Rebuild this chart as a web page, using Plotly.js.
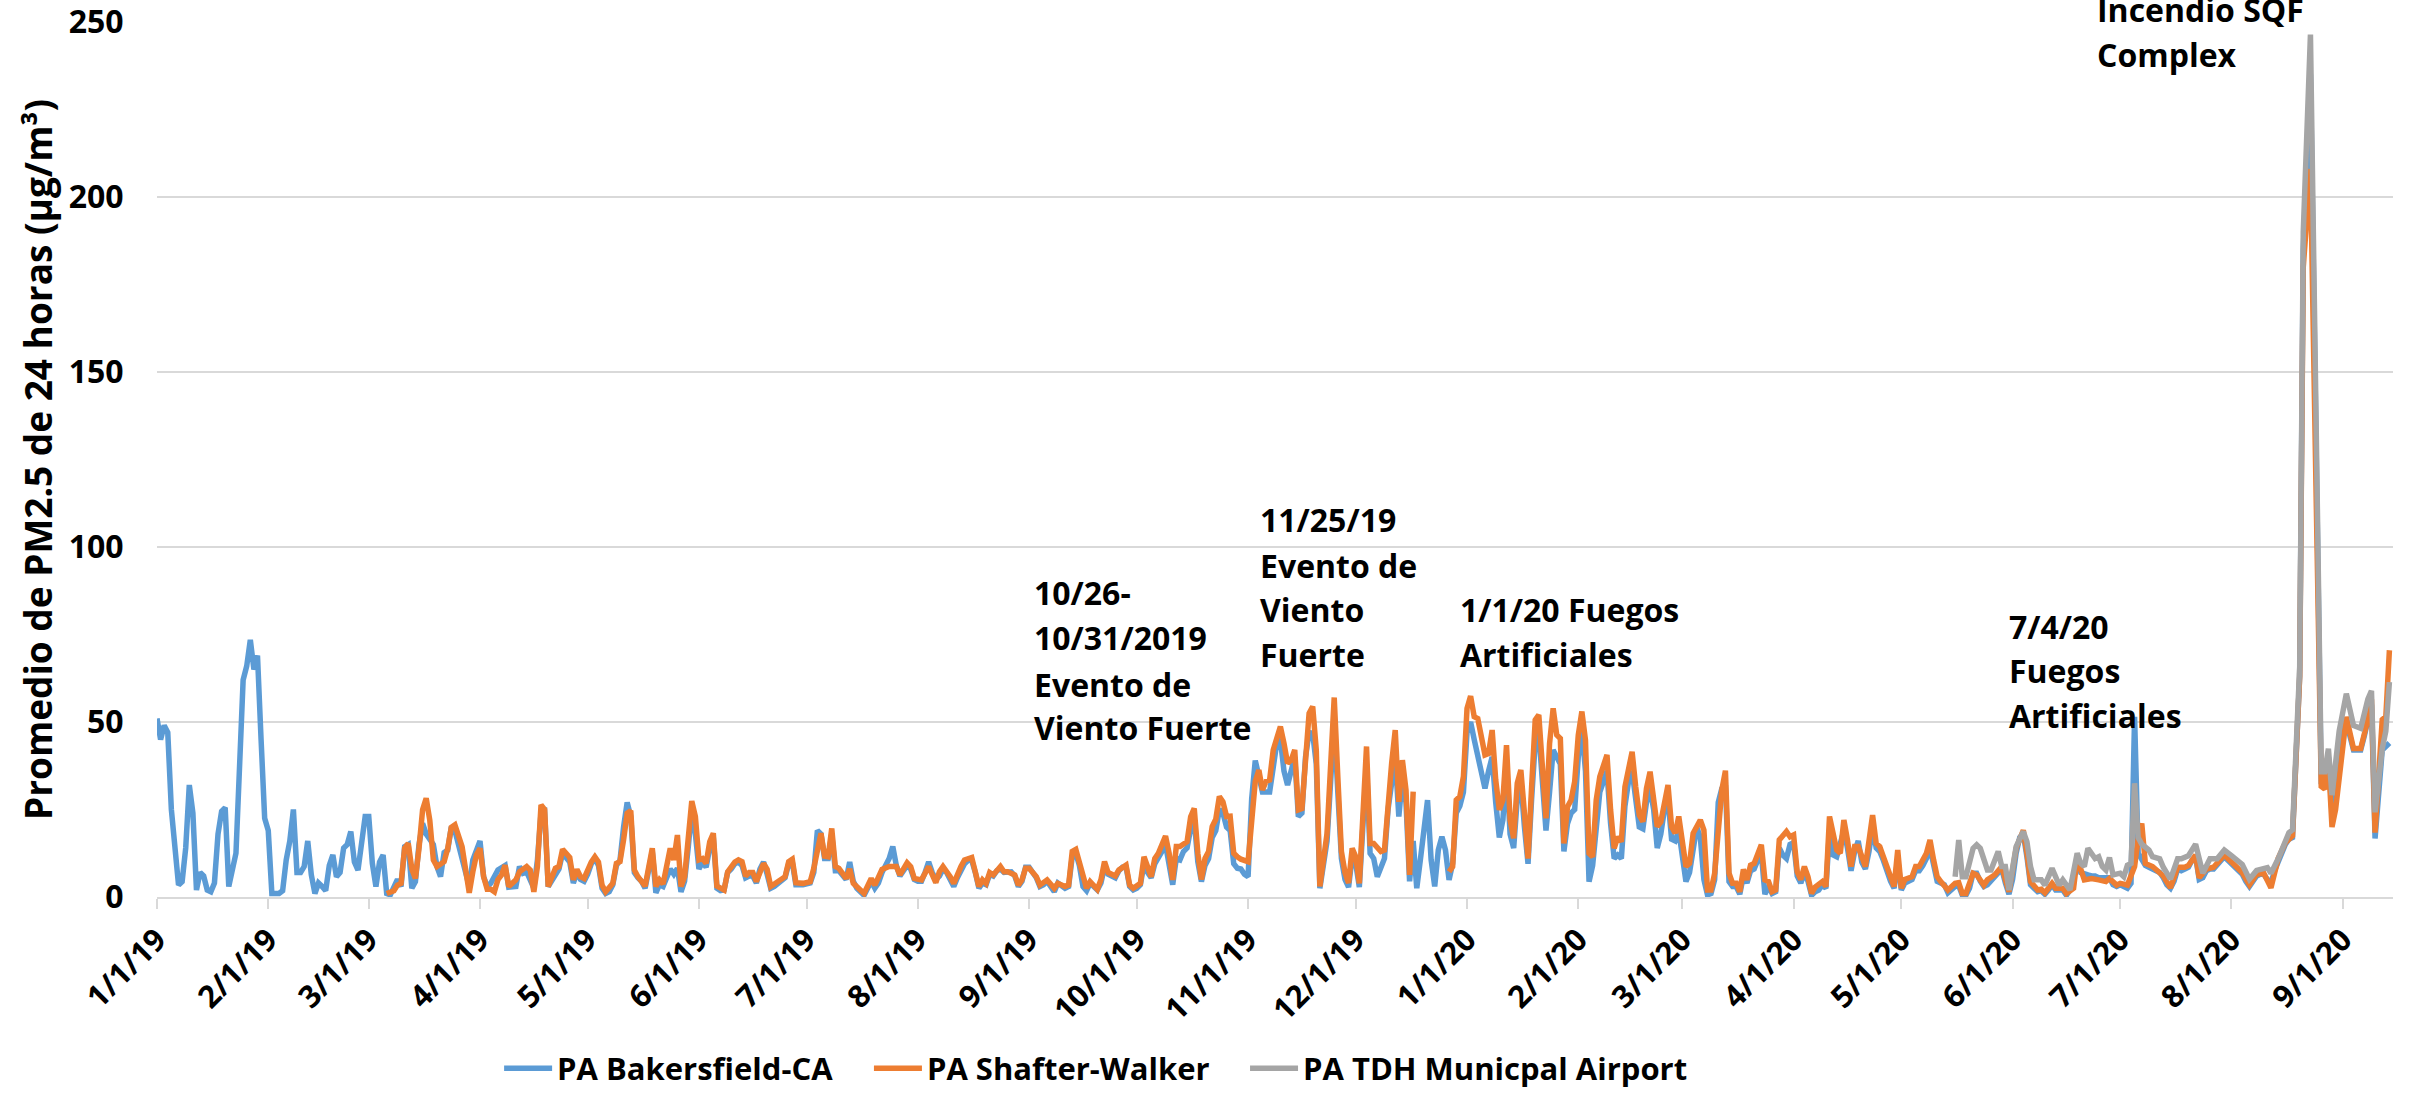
<!DOCTYPE html>
<html>
<head>
<meta charset="utf-8">
<script src="https://cdn.plot.ly/plotly-3.0.1.min.js"></script>
<style>html,body{margin:0;padding:0;background:#fff}#chart{width:2413px;height:1094px}</style>
</head>
<body>
<div id="chart"></div>
<script>
// Days counted from 1/1/19, value = 24-h PM2.5 (µg/m³)
const bakersfield = [[0,51],[1,45],[2,49],[3,47],[4,25],[6,3.4],[7,4.4],[8,14],[9,32],[10,24],[11,2],[12,7],[13,6],[14,2],[15,1.5],[16,4],[17,18],[18,24.5],[19,25.5],[20,3],[22,12.5],[23,34],[24,62],[25,66],[26,73.5],[27,65],[28,69],[29,45],[30,22.5],[31,19],[32,1],[34,1],[35,1.8],[36,10.6],[37,16],[38,25],[39,7],[40,7],[41,8.7],[42,16],[43,6.3],[44,1],[45,4],[46,3],[47,1.8],[48,9],[49,12],[50,5.8],[51,7],[52,14],[53,15],[54,18.7],[55,10],[56,7.7],[57,16.8],[58,23],[59,23],[60,9.6],[61,3],[62,10],[63,12],[64,1],[65,0.6],[66,3],[67,5],[68,3],[69,14.4],[70,15],[71,2.5],[72,4.4],[73,15],[74,21],[75,18],[77,15],[78,8.7],[79,5.8],[80,12.7],[81,13.4],[82,20],[83,19],[85,11],[87,3],[88,10.6],[90,16],[91,5.8],[92,3],[93,3.9],[95,7.7],[97,9],[98,2.8],[100,3],[101,8.7],[102,6.8],[103,7.2],[105,2.5],[106,10.6],[107,24],[108,24.5],[109,3],[111,6.3],
[112,8],[113,12.5],[114,11],[115,10],[116,4],[117,7],[118,5],[119,4.5],[120,6.5],[121,9.5],[122,11],[123,9],[124,2.5],[125,1],[126,1.5],[127,3.5],[128,9],[129,10.5],[130,20],[131,27],[132,23],[133,7],[134,5.5],[135,4.5],[136,2.5],[137,7],[138,13],[139,1.2],[140,3.5],[141,3],[142,5.5],[143,8],[144,6.5],[145,8.2],[146,1.5],[147,4.5],[148,14],[149,25],[150,18],[151,8],[152,10],[153,8.5],[154,14],[155,17],[156,2.5],[157,1.8],[158,2],[159,7],[160,8],[161,9.5],[162,10],[163,9],[164,5.5],[165,6],[166,6],[167,4],[168,8],[169,10],[170,6.5],[171,2.5],[172,3],[173,4],[174,4.5],[175,5.5],[176,9.5],[177,10],[178,3.5],[180,3.5],[182,4],[183,7],[184,19],[185,18],[186,11],[187,11],[188,18],[189,7.5],[190,7.5],[191,6.5],[192,5],[193,10],[194,4.5],[195,2.5],[196,1.5],[197,0.5],[198,2.5],[199,4.5],[200,2.5],[201,4],[202,7],[203,9],[204,11],[205,14.4],[206,9],[207,6],[208,7.5],[209,9],[210,8],[211,5],[212,4.5],[213,4.5],[214,7],[215,10],[216,7],[217,5],[218,6],[219,8],[220,7],[221,5],[222,3],
[223,5.5],[224,8],[225,9.5],[226,10.5],[227,10.5],[228,7],[229,2.5],[230,4],[231,3.5],[232,6.5],[233,6],[234,7.5],[235,8],[236,7],[237,7],[238,7.2],[239,6],[240,3],[241,4.5],[242,8.5],[243,8.5],[244,7],[245,5.5],[246,3],[247,3.5],[248,4.5],[249,3],[250,1.5],[251,4],[252,3],[253,2.5],[254,3],[255,11.5],[256,12.5],[257,9],[258,3],[259,1.8],[260,4],[261,3],[262,2],[263,4],[264,8.5],[265,6.5],[266,6],[267,5.5],[268,7.5],[269,8.5],[270,8.5],[271,3],[272,2],[273,2.5],[274,3.5],[275,9.5],[276,7],[277,5.5],[278,9.5],[279,11],[280,13],[281,15],[282,9],[283,3.5],[284,11],[285,10.6],[286,13],[287,14],[288,19.5],[289,22],[290,10],[291,4.4],[292,9],[293,11],[294,17],[295,19],[296,25],[297,24],[298,20],[299,19],[300,9.5],[301,8.2],[302,8],[303,6.5],[304,5.8],[305,28],[306,39],[307,34],[308,30],[309,30],[310,30],[311,37],[312,44],[313,45],[314,36],[315,32],[316,36],[317,40],[318,23],[319,24],[320,40],[321,47],[322,46.8],[323,38],[324,2.5],[325,10],[326,16],[327,33],[328,50],[329,30],[330,11],
[331,5],[332,2.8],[333,11.5],[334,9.5],[335,2.8],[336,22],[337,38],[338,12.5],[339,11],[340,5.8],[341,8],[342,11],[343,25],[344,33],[345,40],[346,23],[347,34],[348,27],[349,4.5],[350,16],[351,2.5],[352,10.6],[353,20],[354,27.7],[355,10.6],[356,3],[357,13.4],[358,17.2],[359,13.4],[360,4.9],[361,9.6],[362,24],[363,26],[364,30],[365,47],[366,50],[367,45],[368,40],[369,36],[370,31],[371,36],[372,40],[373,27],[374,17],[375,22],[376,38],[377,18],[378,14],[379,28],[380,33],[381,20],[382,9.5],[383,28],[384,44],[385,47],[386,31],[387,19],[388,30],[389,42],[390,40],[391,38],[392,13],[393,21],[394,24],[395,25],[396,40],[397,48],[398,36],[399,4.4],[400,9],[401,20],[402,30],[403,33],[404,36],[405,21],[406,11],[407,12],[408,11],[409,26],[410,33],[411,36],[412,27],[413,20],[414,19.5],[415,27],[416,31],[417,25],[418,14],[419,18],[420,25],[421,28],[422,16.5],[423,16],[424,19],[425,11],[426,4.4],[427,7],[428,15],[429,20],[430,17],[431,5],[432,0.6],[433,1],[434,5],[435,27],[436,31],[437,32],[438,4.4],[439,3],[440,3],[441,0.8],[442,6],[443,4],[444,7.5],[445,8],
[446,10.5],[447,12.5],[448,0.8],[449,3],[450,1],[451,1.5],[452,14],[453,12],[454,11],[455,15],[456,15.5],[457,6],[458,4],[459,7],[460,4.5],[461,0.5],[462,1.5],[463,2],[464,3.5],[465,2.5],[466,19],[467,12],[468,11.5],[469,15],[470,19],[471,14],[472,7.5],[473,13],[474,16],[475,10],[476,8],[477,13],[478,20],[479,14],[480,13],[481,10.5],[482,7],[483,4.5],[484,2.5],[485,11],[486,2],[487,4],[488,4.5],[489,5],[490,7.5],[491,7.5],[492,9],[493,11],[494,14],[495,9],[496,4.5],[497,4],[498,3.5],[499,1.2],[500,2],[501,3],[502,3.3],[503,0.5],[504,0.5],[505,2.5],[506,6.8],[507,6.8],[508,4.5],[509,3],[510,3.5],[511,4.5],[512,6],[513,7],[514,8],[515,4],[516,0.8],[517,5],[518,12.5],[519,17],[520,18],[521,11.5],[522,3.5],[523,2.5],[524,1.5],[525,1.8],[526,0.8],[527,2],[528,3.5],[529,2],[530,2],[531,2],[532,0.5],[533,2],[534,6],[535,9.5],[536,7],[537,6.5],[538,6.3],[539,6],[540,6],[541,5.5],[542,5.5],[543,5.8],[544,5.5],[545,3.5],[546,3],[547,3.5],[548,3],[549,2.5],[550,3.9],[551,51.5],[552,12.5],[553,11],[554,9],[555,8.5],[556,8],[557,7.5],[558,7],
[559,5.5],[560,3.5],[561,2.5],[562,4.5],[563,8],[564,7.5],[565,8],[566,8.5],[567,10.5],[568,11.5],[569,5],[570,5.5],[571,7.5],[572,8],[573,8],[574,9],[575,10.5],[576,11.5],[577,10.5],[578,9.5],[579,8.5],[580,7.5],[581,6.5],[582,4.5],[583,3],[584,4.5],[585,6],[586,6.5],[587,6.5],[588,5],[589,4],[590,7.5],[591,10.5],[592,12.5],[593,15],[594,16.5],[595,17],[597,63],[598,185],[600,235],[603,33],[604,33],[605,40],[606,24],[607,33],[608,43],[609,48],[610,50],[611,46],[612,42],[613,42],[614,42],[615,46],[616,50],[617,55],[618,16.7],[619,30],[620,42],[621,43],[622,44]];

const shafterWalker = [[64,1],[65,1.5],[66,1.8],[67,3.4],[68,3.9],[69,14],[70,15.3],[71,8],[72,5.3],[73,13.9],[74,24.9],[75,28.2],[76,22],[77,10.6],[78,8.7],[80,10.1],[81,13.9],[82,19.9],[83,20.6],[85,14.4],[87,1.2],[88,7.2],[89,12],[90,13.9],[91,5.8],[92,2.2],[93,2.2],[94,1.5],[95,5],[96,6.3],[97,9.1],[98,3],[100,4.9],[101,7.2],[103,8.7],[104,7.7],[105,1.5],[106,8.7],[107,26.3],[108,25],[109,3],[111,8.2],[112,8.7],[113,13.6],[115,11.3],[116,4.9],[117,7.9],[118,5.8],[119,5.3],[121,10],[122,11.5],[123,10],[124,3.4],[125,1.5],[127,3.9],[128,9.6],[129,10.1],[130,16.3],[131,23.9],[132,24.7],[133,7.7],[134,5.8],[136,3.1],[138,13.9],[139,3],[140,4.9],[141,3.7],[143,13.9],[144,10.6],[145,17.7],[146,3],[147,5.8],[149,27.4],[150,23],[151,10.6],[152,11],[153,9.6],[154,15.8],[155,18.2],[156,3.1],[158,2],[159,7.2],[161,10],[162,10.6],[163,10.1],[164,6],[165,7],[166,7],[167,4.4],[169,9.6],[170,7.9],[171,3],[173,4.4],[175,5.8],[176,10.1],[177,10.8],[178,4.1],[180,3.9],[182,4.4],[183,8.2],[185,18.2],[186,11.7],[187,11.5],[188,19.6],[189,8.7],[190,8.2],[192,5.3],[193,8],[194,3.9],[197,1],[199,5.3],[200,3.4],[202,7.9],[204,8.7],[206,8.7],[207,6.3],[209,9.8],[210,8.7],[211,5.3],[213,4.9],[215,8.7],[217,4.1],[218,7.2],[219,8.7],[221,5.8],[222,3.9],[224,8.7],[225,10.6],[227,11.3],[228,7.7],[229,3],[230,4.9],[231,3.9],[232,7],[233,6.3],[235,8.7],[236,7.2],[237,7.2],[239,6.3],[240,3.4],[241,4.9],[242,8.2],[243,8.2],[245,5.8],[246,3.4],[248,4.9],[249,3.4],[250,2.5],[251,3.9],[253,3],[254,3.4],[255,13],[256,13.6],[259,2.5],[260,4.4],[262,2.2],[263,4.9],[264,10.1],[265,7],[266,6.3],[267,6],[268,7.7],[270,9.1],[271,3.4],[272,2.5],[274,3.9],[275,11.5],[277,5.8],[278,11],[279,12.5],[281,17.4],[282,12.5],[283,4.9],[284,14.4],[285,14.4],[287,15.8],[288,22.9],[289,25.3],[290,12.5],[291,5],[292,11],[293,13],[294,20.1],[295,22.2],[296,28.7],[297,27.2],[298,23],[299,23.1],[300,12.5],[301,11.5],[302,10.8],[304,10.1],[306,33],[307,36.3],[308,30.6],[309,33],[310,33.4],[311,42],[313,48.7],[314,43.9],[315,38.2],[316,39.1],[317,42],[318,24.9],[319,25.3],[321,52.5],[322,54.4],[323,42],[324,3],[326,18.2],[327,37.2],[328,57],[329,34.4],[330,13],[331,7],[332,4],[333,13.9],[334,11.5],[335,3.9],[337,43],[338,15.3],[339,15.3],[341,13],[342,13.4],[344,38.2],[345,47.7],[346,27.2],[347,39.1],[348,30.6],[349,6.3],[350,30.1],[355,null],[360,7.2],[361,8.7],[362,27.7],[363,28.7],[364,34.4],[365,53.9],[366,57.4],[367,51.5],[368,51],[369,44.9],[370,40.6],[371,41],[372,47.7],[373,33.4],[374,24.9],[375,27.7],[376,43.4],[377,22],[378,16.8],[379,32.5],[380,36.3],[381,23.9],[382,11],[383,31.5],[384,50.6],[385,52],[386,35.3],[387,22.5],[388,43.9],[389,53.9],[390,46.3],[391,45.3],[392,15.3],[393,25.8],[394,27.7],[395,33],[396,46.3],[397,53],[398,44.9],[399,12.5],[400,11.5],[401,27.7],[402,34.4],[404,40.6],[405,24.9],[406,13.9],[407,17.2],[408,15.8],[409,31.5],[411,41.5],[412,31.5],[413,23.4],[414,21.5],[415,31],[416,35.8],[417,27.7],[418,20.1],[419,21.5],[421,32],[422,20.1],[423,18.2],[424,23],[425,14.4],[426,8.7],[427,9.6],[428,18.2],[430,22],[431,19.1],[432,2],[433,2],[434,6.8],[436,30.6],[437,36.1],[438,6.8],[439,3.9],[440,3.9],[441,1.5],[442,7.9],[443,4.9],[444,9.1],[445,9.6],[446,12.5],[447,14.9],[448,4.9],[449,4.4],[450,1.5],[451,2],[452,16.3],[454,18.7],[455,17.2],[456,17.7],[457,7.2],[458,5],[459,8.7],[460,5.8],[461,1],[462,2.8],[464,4.4],[465,3],[466,23],[468,13.4],[469,12.5],[470,22],[471,16.3],[472,8.7],[473,14.4],[474,14.4],[476,8.7],[477,15.3],[478,23.4],[479,15.3],[480,14.4],[481,11.5],[483,5.3],[484,3],[485,13.4],[486,2.5],[487,5],[489,5.8],[490,8.7],[491,8.7],[493,12.5],[494,16.3],[495,10.6],[496,5.8],[497,4.4],[499,2],[501,3.9],[502,4.1],[503,1],[504,1],[506,6.8],[507,6.3],[509,3.4],[510,4.9],[512,6.3],[514,8.7],[515,4.9],[516,1.5],[518,13.9],[520,19.1],[521,12.5],[522,4.4],[524,2],[525,2.2],[526,1.2],[528,3.9],[529,2.5],[531,2.5],[532,1],[534,2.5],[535,11],[536,7.2],[537,4.9],[539,5.3],[540,4.9],[541,4.9],[543,4.4],[544,5.3],[546,3.4],[547,3.9],[548,3.7],[549,3.4],[551,8.7],[552,16.8],[553,21],[554,9.6],[556,8.7],[558,7.2],[559,6],[561,2.6],[563,8.5],[565,8.5],[566,9],[568,12],[569,5.5],[571,8],[573,8.5],[576,12],[578,10],[581,7],[583,3.5],[585,6.5],[587,6.8],[588,5],[589,2.6],[591,11],[593,15.5],[595,17.5],[597,63],[598,180],[600,208],[603,31.6],[604,30.8],[605,39],[606,20],[607,25],[610,51.5],[612,42.4],[614,42.4],[616,50.7],[617,56.5],[618,18.4],[620,50.7],[621,51.5],[622,70.5]];

const tdhAirport = [[501,5.8],[502,16.3],[503,5.8],[504,5.8],[506,13.9],[507,14.9],[508,13.9],[510,7.7],[511,7.7],[513,13],[514,8.7],[515,8.7],[516,2],[518,14.4],[520,18.7],[521,15.8],[522,8.7],[523,4.9],[525,4.9],[526,3.4],[528,8.2],[530,3.4],[531,4.9],[533,2],[535,12.5],[536,9.6],[537,8.7],[538,13.9],[540,11],[541,11.5],[542,8.7],[543,7.7],[544,11.3],[545,6.3],[547,6.8],[548,5.8],[549,9.1],[550,9.6],[551,32.5],[552,17],[553,15.1],[555,13.4],[556,11.5],[558,10.9],[559,8.5],[561,5.1],[563,10.9],[564,10.9],[566,11.8],[568,15.1],[570,6.8],[572,10.9],[574,10.9],[576,13.4],[578,11.8],[581,9.3],[583,5.1],[585,7.6],[588,8.4],[589,6.8],[591,10.9],[594,18.4],[595,19.2],[597,65.6],[598,190],[600,246.4],[603,35.8],[604,35.8],[605,42.4],[606,29.1],[608,47.4],[610,58.1],[612,49],[614,48.2],[616,56.5],[617,58.9],[618,24.2],[619,32.5],[620,42.4],[621,47.4],[622,61.4]];

const seriesNames = ['PA Bakersfield-CA', 'PA Shafter-Walker', 'PA TDH Municpal Airport'];
const tickDates = ['2019-01-01','2019-02-01','2019-03-01','2019-04-01','2019-05-01','2019-06-01','2019-07-01','2019-08-01','2019-09-01','2019-10-01','2019-11-01','2019-12-01','2020-01-01','2020-02-01','2020-03-01','2020-04-01','2020-05-01','2020-06-01','2020-07-01','2020-08-01','2020-09-01'];
const tickLabels = ['1/1/19','2/1/19','3/1/19','4/1/19','5/1/19','6/1/19','7/1/19','8/1/19','9/1/19','10/1/19','11/1/19','12/1/19','1/1/20','2/1/20','3/1/20','4/1/20','5/1/20','6/1/20','7/1/20','8/1/20','9/1/20'];
const yTicks = [0, 50, 100, 150, 200, 250];
const noteLines = ['10/26-', '10/31/2019', 'Evento de', 'Viento Fuerte',
                   '11/25/19', 'Evento de', 'Viento', 'Fuerte',
                   '1/1/20 Fuegos', 'Artificiales',
                   '7/4/20', 'Fuegos', 'Artificiales',
                   'Incendio SQF', 'Complex'];
const yTitle = 'Promedio de PM2.5 de 24 horas (µg/m³)';

function toDate(d) {
  const t = new Date(Date.UTC(2019, 0, 1 + d));
  return t.toISOString().slice(0, 10);
}
function mk(pairs, name, color, legendId) {
  return {
    type: 'scatter', mode: 'lines', name: name, legend: legendId,
    x: pairs.map(p => toDate(p[0])), y: pairs.map(p => p[1]),
    connectgaps: false,
    line: {color: color, width: 5.5},
    hoverinfo: 'x+y+name'
  };
}
const FONT = '"Open Sans", "Noto Sans", sans-serif';
const traces = [
  mk(bakersfield, seriesNames[0], '#5B9BD5', 'legend'),
  mk(shafterWalker, seriesNames[1], '#ED7D31', 'legend2'),
  mk(tdhAirport, seriesNames[2], '#A5A5A5', 'legend3')
];

// annotation placement (paper coords): [x, y] per line
const notePos = [[0.3913,0.348],[0.3913,0.2971],[0.3913,0.2434],[0.3913,0.1937],
                 [0.4924,0.432],[0.4924,0.3794],[0.4924,0.3286],[0.4924,0.2771],
                 [0.5818,0.3286],[0.5818,0.2771],
                 [0.8273,0.3097],[0.8273,0.2583],[0.8273,0.2074],
                 [0.8667,1.014],[0.8667,0.9623]];
const annotations = noteLines.map((t, i) => ({
  text: t, xref: 'paper', yref: 'paper', x: notePos[i][0], y: notePos[i][1],
  xanchor: 'left', yanchor: 'middle', showarrow: false, align: 'left',
  font: {family: FONT, size: 32, weight: 'bold', color: '#000'}
}));

function leg(x) {
  return {x: x, y: -0.196, xref: 'paper', yref: 'paper', xanchor: 'left', yanchor: 'middle',
          orientation: 'h', bgcolor: 'rgba(0,0,0,0)', borderwidth: 0, itemwidth: 48,
          font: {family: FONT, size: 31, weight: 'bold', color: '#000'}};
}

const layout = {
  width: 2413, height: 1094,
  margin: {l: 157, r: 20, t: 22, b: 197, autoexpand: false},
  paper_bgcolor: '#fff', plot_bgcolor: '#fff',
  showlegend: true,
  legend: leg(0.153), legend2: leg(0.3184), legend3: leg(0.4866),
  xaxis: {
    type: 'date', range: ['2019-01-01', '2020-09-15'],
    tickvals: tickDates, ticktext: tickLabels, tickangle: -45,
    ticks: 'outside', ticklen: 10, tickwidth: 2, tickcolor: '#D9D9D9',
    showline: true, linecolor: '#D9D9D9', linewidth: 2,
    showgrid: false, zeroline: false, ticklabeloverflow: 'allow',
    tickfont: {family: FONT, size: 31, weight: 'bold', color: '#000'}
  },
  yaxis: {
    range: [0, 250], tickvals: yTicks,
    showgrid: true, gridcolor: '#D9D9D9', gridwidth: 2,
    zeroline: false, showline: false, ticklabeloverflow: 'allow',
    ticks: 'outside', ticklen: 26, tickcolor: 'rgba(0,0,0,0)',
    tickfont: {family: FONT, size: 32, weight: 'bold', color: '#000'},
    title: {text: yTitle, standoff: 4, font: {family: FONT, size: 37, weight: 'bold', color: '#000'}}
  },
  annotations: annotations
};

Plotly.newPlot('chart', traces, layout, {displayModeBar: false, staticPlot: true});
</script>
</body>
</html>
